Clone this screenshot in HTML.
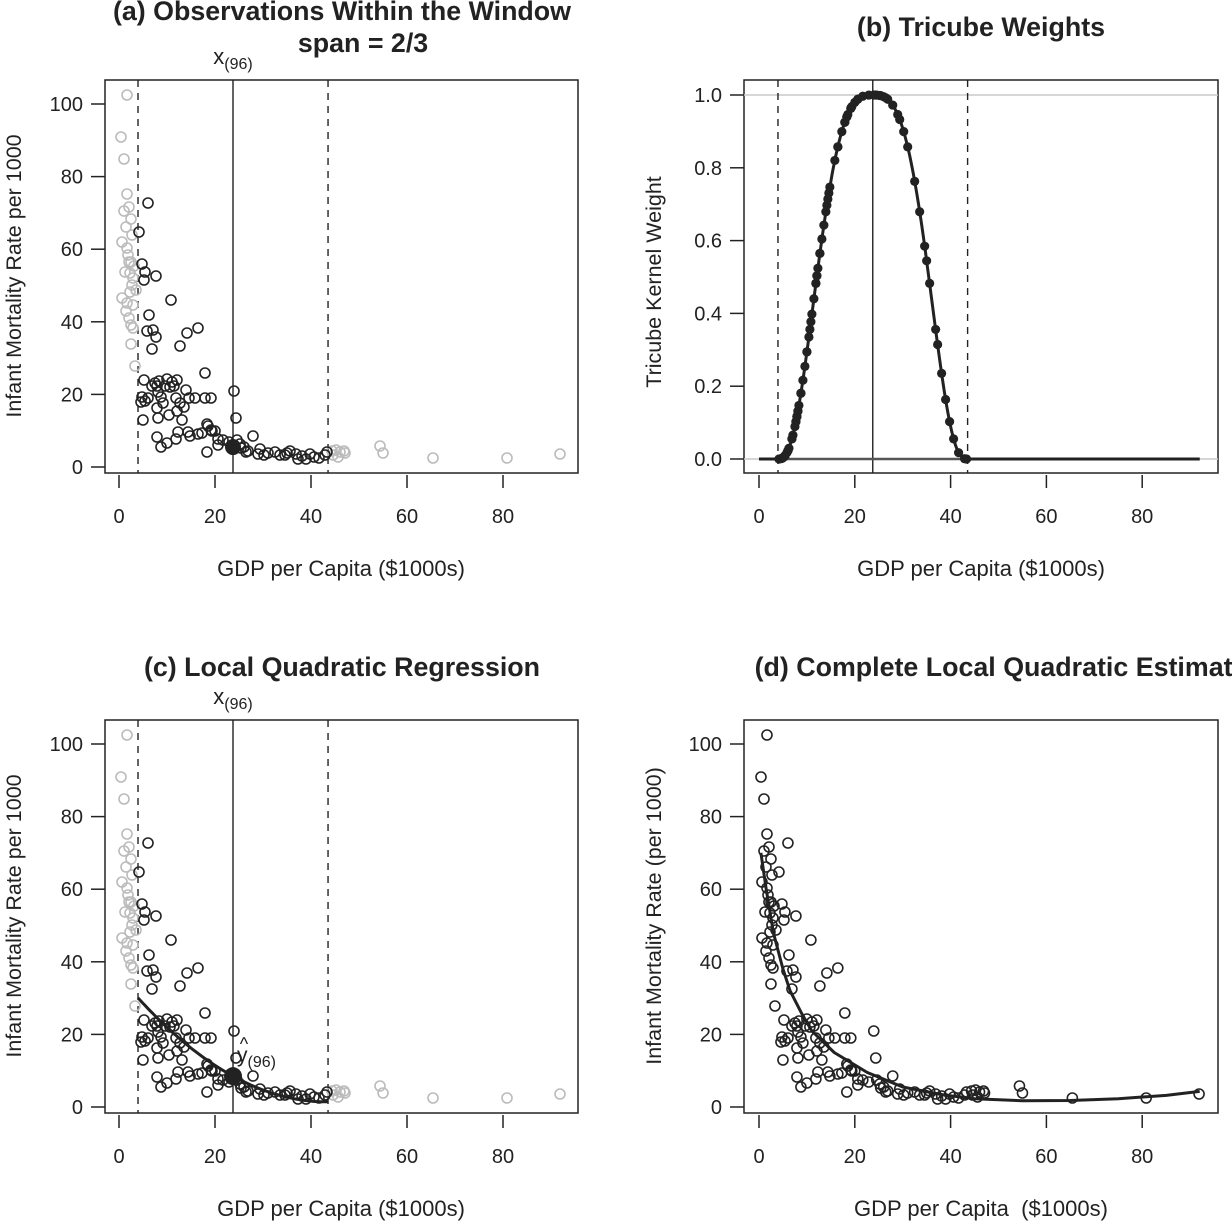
<!DOCTYPE html>
<html><head><meta charset="utf-8"><style>
body{margin:0;background:#fff}
svg text{font-family:"Liberation Sans",sans-serif;fill:#222}
</style></head><body>
<svg id="s" width="1232" height="1224" xmlns="http://www.w3.org/2000/svg"></svg>
<script>
const S=document.getElementById('s');let h='';
const P=[[127,95],[121,137],[124,159],[127,194],[124,211],[129,207],[126,227],[131,219],[122,242],[127,248],[128,255],[131,262],[125,272],[130,273],[134,266],[132,285],[130,292],[122,298],[127,303],[133,305],[126,311],[129,318],[131,325],[133,328],[131,344],[135,366],[136,290],[133,278],[129,262],[132,235],
[333,455],[336,450],[340,452],[345,453],[380,446],[383,453],[433,458],[507,458],[560,454],[332,451],[344,451],[338,457],
[148,203],[139,232],[142,264],[145,272],[156,276],[144,280],[171,300],[149,315],[153,330],[147,331],[156,337],[152,349],[187,333],[198,328],[180,346],[205,373],[234,391],[236,418],[144,380],[155,383],[159,381],[167,379],[172,382],[177,380],[152,386],[157,386],[165,386],[170,387],[174,386],[186,390],[158,392],[142,397],[145,401],[148,398],[141,402],[161,397],[163,403],[176,398],[180,403],[177,411],[184,407],[157,408],[189,398],[195,398],[205,398],[211,398],[182,420],[188,432],[178,432],[176,439],[190,436],[198,434],[202,433],[212,431],[207,424],[215,431],[218,439],[218,445],[207,452],[208,426],[211,430],[223,440],[229,442],[167,443],[157,437],[161,447],[143,420],[158,418],[169,415],[237,440],[240,444],[248,451],[253,436],[244,447],[258,454],[260,449],[268,453],[275,452],[285,455],[287,453],[290,451],[296,454],[298,459],[302,456],[310,454],[314,457],[319,458],[325,455],[327,452],[241,448],[246,452],[264,455],[280,455],[306,459]];
const D=P.map(p=>[(p[0]-119)/4.8,(467-p[1])/3.63]);
const lo=3.96,hi=43.55,c0=23.75;
const xa=x=>119+x*4.8, xb=x=>759+x*4.79;
const ya=(y,o)=>467+o-y*3.63, yb=w=>459-w*364;
function box(x1,y1,x2,y2){h+=`<rect x="${x1}" y="${y1}" width="${x2-x1}" height="${y2-y1}" fill="none" stroke="#222" stroke-width="1.5"/>`;}
function axes(xf,left,top,yt,ylab,yf){
 for(const t of [0,20,40,60,80]){const x=xf(t);h+=`<line x1="${x}" y1="${top+395}" x2="${x}" y2="${top+408}" stroke="#222" stroke-width="1.5"/><text x="${x}" y="${top+443}" font-size="20" text-anchor="middle">${t}</text>`;}
 for(const t of yt){const y=yf(t);h+=`<line x1="${left-14}" y1="${y}" x2="${left}" y2="${y}" stroke="#222" stroke-width="1.5"/><text x="${left-22}" y="${y+7}" font-size="20" text-anchor="end">${ylab(t)}</text>`;}
}
function vl(x,y1,y2,d){h+=`<line x1="${x}" y1="${y1}" x2="${x}" y2="${y2}" stroke="#222" stroke-width="1.4" ${d?'stroke-dasharray="7,6"':''}/>`;}
function circ(x,y,col){h+=`<circle cx="${x}" cy="${y}" r="5" fill="none" stroke="${col}" stroke-width="1.6"/>`;}
function txt(x,y,s,sz,extra){h+=`<text x="${x}" y="${y}" font-size="${sz}" text-anchor="middle" ${extra||''}>${s}</text>`;}
for(const o of [0,640]){
 box(105,80+o,578,473+o);
 axes(xa,105,80+o,[0,20,40,60,80,100],t=>t,t=>ya(t,o));
 vl(xa(lo),80+o,473+o,1);vl(xa(hi),80+o,473+o,1);vl(xa(c0),80+o,473+o,0);
 for(const d of D){const inw=d[0]>=lo&&d[0]<=hi;circ(xa(d[0]),ya(d[1],o),inw?'#222':'#bbb');}
 txt(341,576+o,'GDP per Capita ($1000s)',22);
 h+=`<text transform="translate(21,${276+o}) rotate(-90)" font-size="21.5" text-anchor="middle">Infant Mortality Rate per 1000</text>`;
 txt(233,64+o,'x<tspan font-size="16" dy="5">(96)</tspan>',22);
}
h+=`<circle cx="${xa(c0)}" cy="${ya(5.5,0)}" r="8" fill="#222"/>`;
let q='';for(let x=lo;x<=hi;x+=0.5){const d=x-c0;const y=8.5-0.7236*d+0.0185*d*d;q+=(q?'L':'M')+xa(x).toFixed(1)+','+ya(y,640).toFixed(1);}
h+=`<path d="${q}" fill="none" stroke="#222" stroke-width="3"/>`;
h+=`<circle cx="${xa(c0)}" cy="${ya(8.5,640)}" r="9" fill="#222"/>`;
txt(244,1050,'^',18);
h+=`<text x="237" y="1062" font-size="21">y<tspan font-size="16" dy="5">(96)</tspan></text>`;
box(744,80,1218,473);
h+=`<line x1="744" y1="${yb(0)}" x2="1218" y2="${yb(0)}" stroke="#c8c8c8" stroke-width="1.5"/><line x1="744" y1="${yb(1)}" x2="1218" y2="${yb(1)}" stroke="#c8c8c8" stroke-width="1.5"/>`;
axes(xb,744,80,[0,0.2,0.4,0.6,0.8,1.0],t=>t.toFixed(1),yb);
vl(xb(lo),80,473,1);vl(xb(hi),80,473,1);vl(xb(c0),80,473,0);
const W=x=>{const u=Math.abs(x-c0)/19.8;return u>=1?0:Math.pow(1-u*u*u,3);};
let wp='';for(let x=0;x<=92;x+=0.25){wp+=(wp?'L':'M')+xb(x).toFixed(1)+','+yb(W(x)).toFixed(1);}
h+=`<line x1="${xb(0.3)}" y1="${yb(0)}" x2="${xb(92)}" y2="${yb(0)}" stroke="#555" stroke-width="2.5"/>`;
h+=`<path d="${wp}" fill="none" stroke="#222" stroke-width="3"/>`;
for(const d of D){if(d[0]>=lo&&d[0]<=hi)h+=`<circle cx="${xb(d[0])}" cy="${yb(W(d[0]))}" r="4.6" fill="#222"/>`;}
txt(981,576,'GDP per Capita ($1000s)',22);
h+=`<text transform="translate(661,282) rotate(-90)" font-size="21.5" text-anchor="middle">Tricube Kernel Weight</text>`;
box(744,720,1218,1113);
axes(xb,744,720,[0,20,40,60,80,100],t=>t,t=>ya(t,640));
for(const d of D)circ(xb(d[0]),ya(d[1],640),'#222');
const L=[[0.4,70],[1.5,60],[3,48],[5,38],[6.5,32],[8.8,26],[11,21],[15.7,15],[22.6,9.5],[30,5.5],[38.6,3.3],[45,2.3],[55,1.7],[65,1.8],[75,2.3],[85,3.2],[92,4.3]];
h+=`<path d="${L.map((p,i)=>(i?'L':'M')+xb(p[0]).toFixed(1)+','+ya(p[1],640).toFixed(1)).join('')}" fill="none" stroke="#222" stroke-width="3" stroke-linejoin="round"/>`;
txt(981,1216,'GDP per Capita&#160;&#160;($1000s)',22);
h+=`<text transform="translate(661,916) rotate(-90)" font-size="21.5" text-anchor="middle">Infant Mortality Rate (per 1000)</text>`;
txt(342,20,'(a) Observations Within the Window',26.8,'font-weight="bold"');
txt(363,52,'span = 2/3',26.8,'font-weight="bold"');
txt(981,36,'(b) Tricube Weights',26.8,'font-weight="bold"');
txt(342,676,'(c) Local Quadratic Regression',26.8,'font-weight="bold"');
txt(1001,676,'(d) Complete Local Quadratic Estimate',26.8,'font-weight="bold"');
S.innerHTML=h;
</script>
</body></html>
